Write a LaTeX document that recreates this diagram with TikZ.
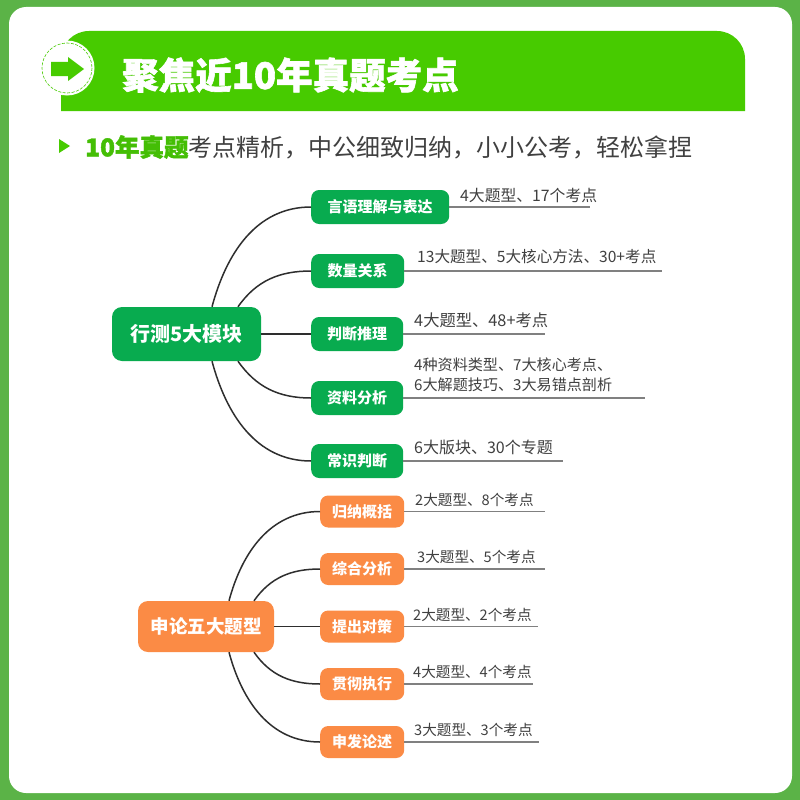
\documentclass[tikz,border=0pt]{standalone}
\usepackage{fontspec}
\setmainfont{Noto Sans CJK SC}
\newfontfamily\heavyf[BoldFeatures={FakeBold=1.6}]{Noto Sans CJK SC}
\usepackage{xcolor}
\usetikzlibrary{calc,positioning}
\definecolor{frameg}{HTML}{5BB347}
\definecolor{bang}{HTML}{47CB00}
\definecolor{hotg}{HTML}{44BE05}
\definecolor{modg}{HTML}{08AB4F}
\definecolor{shenor}{HTML}{FB8B45}
\definecolor{txtk}{HTML}{404040}
\tikzset{
  rootblk/.style = {rectangle, rounded corners=10pt, align=center, text=white,
                    font=\fontsize{20}{20}\selectfont\bfseries, inner sep=0pt},
  subblk/.style  = {rectangle, rounded corners=8pt, align=center, text=white,
                    font=\fontsize{15}{15}\selectfont\bfseries, inner sep=0pt, anchor=west},
  info/.style    = {anchor=west, align=left, inner sep=0pt, text=txtk},
  link/.style    = {line width=1.5pt, draw=black!82},
  leader/.style  = {line width=1.1pt, draw=black!50}
}

\begin{document}
\begin{tikzpicture}[x=1pt,y=-1pt]
\useasboundingbox (0,0) rectangle (800,800);

% --- frame ---
\fill[frameg] (0,0) rectangle (800,800);
\fill[white, rounded corners=17pt] (9,7) rectangle (792,793);

% --- banner ---
\fill[bang] (61,111) [rounded corners=28pt] -- (61,31) -- (745,31) [sharp corners] -- (745,111) -- cycle;
\fill[white] (67,68) circle (27.5);
\draw[bang, line width=0.6pt, dash pattern=on 3pt off 1.5pt] (67,68) circle (25);
\fill[bang] (51,62) -- (68,62) -- (68,57) -- (84,69) -- (68,81) -- (68,76) -- (51,76) -- cycle;
\node[anchor=west, inner sep=0pt, text=white, font=\fontsize{36.5}{36.5}\heavyf\bfseries] (title) at (122,75)
     {聚焦近10年真题考点};

% --- sub line ---
\fill[bang] (59,139) -- (70,146) -- (59,153) -- cycle;
\node[anchor=west, inner sep=0pt, text=hotg, font=\fontsize{24.5}{24.5}\heavyf\bfseries] (hot) at (85,147)
     {10年真题};
\node[right=0pt of hot, inner sep=0pt, text=txtk, font=\fontsize{24}{24}\selectfont] (sub)
     {考点精析，中公细致归纳，小小公考，轻松拿捏};

% --- xingce ---
\node[rootblk, fill=modg, minimum width=149pt, minimum height=54pt] (xc) at (186.5,334) {行测5大模块};

\foreach \i/\y/\w/\b/\ex/\tx/\dy/\s/\t in {
  1/207/138/言语理解与表达/590/460/12/15.8/4大题型、17个考点,
  2/271/93/数量关系/662/417/14/15.6/13大题型、5大核心方法、30+考点,
  3/334/92/判断推理/545/414/14/16.3/4大题型、48+考点,
  4/398/92/资料分析/645/414/23/15.1/{4种资料类型、7大核心考点、\\6大解题技巧、3大易错点剖析},
  5/461/92/常识判断/563/414/14/16/6大版块、30个专题} {
  \node[subblk, fill=modg, minimum width=\w pt, minimum height=34pt] (xc\i) at (311,\y) {\b};
  \coordinate (xcend\i) at (\ex,\y);
  \node[info, font=\fontsize{\s}{20}\selectfont] (xcinfo\i) at (\tx,\y-\dy) {\t};
  \draw[leader] (xc\i.east) -- (xcend\i);
}

\draw[link] ([xshift=25.5pt]xc.north) to[out=75, in=180] (xc1.west);
\draw[link] ([xshift=51.5pt]xc.north) to[out=55, in=180] (xc2.west);
\draw[link] (xc.east) -- (xc3.west);
\draw[link] ([xshift=51.5pt]xc.south) to[out=-55, in=180] (xc4.west);
\draw[link] ([xshift=25.5pt]xc.south) to[out=-75, in=180] (xc5.west);

% --- shenlun ---
\node[rootblk, fill=shenor, minimum width=136pt, minimum height=51pt, font=\fontsize{18.5}{18.5}\selectfont\bfseries] (sl) at (206,626.5) {申论五大题型};

\foreach \i/\y/\ex/\tx/\b/\t in {
  1/511.5/545/415/归纳概括/2大题型、8个考点,
  2/569/545/417/综合分析/3大题型、5个考点,
  3/626.5/538/413/提出对策/2大题型、2个考点,
  4/684/533/413/贯彻执行/4大题型、4个考点,
  5/742/539/414/申发论述/3大题型、3个考点} {
  \node[subblk, fill=shenor, minimum width=84pt, minimum height=32pt] (sl\i) at (320,\y) {\b};
  \coordinate (slend\i) at (\ex,\y);
  \node[info, font=\fontsize{14.6}{19}\selectfont] (slinfo\i) at (\tx,\y-12) {\t};
  \draw[leader] (sl\i.east) -- (slend\i);
}

\draw[link] ([xshift=23pt]sl.north) to[out=75, in=180] (sl1.west);
\draw[link] ([xshift=48pt]sl.north) to[out=55, in=180] (sl2.west);
\draw[link] (sl.east) -- (sl3.west);
\draw[link] ([xshift=48pt]sl.south) to[out=-55, in=180] (sl4.west);
\draw[link] ([xshift=23pt]sl.south) to[out=-75, in=180] (sl5.west);

\end{tikzpicture}
\end{document}
